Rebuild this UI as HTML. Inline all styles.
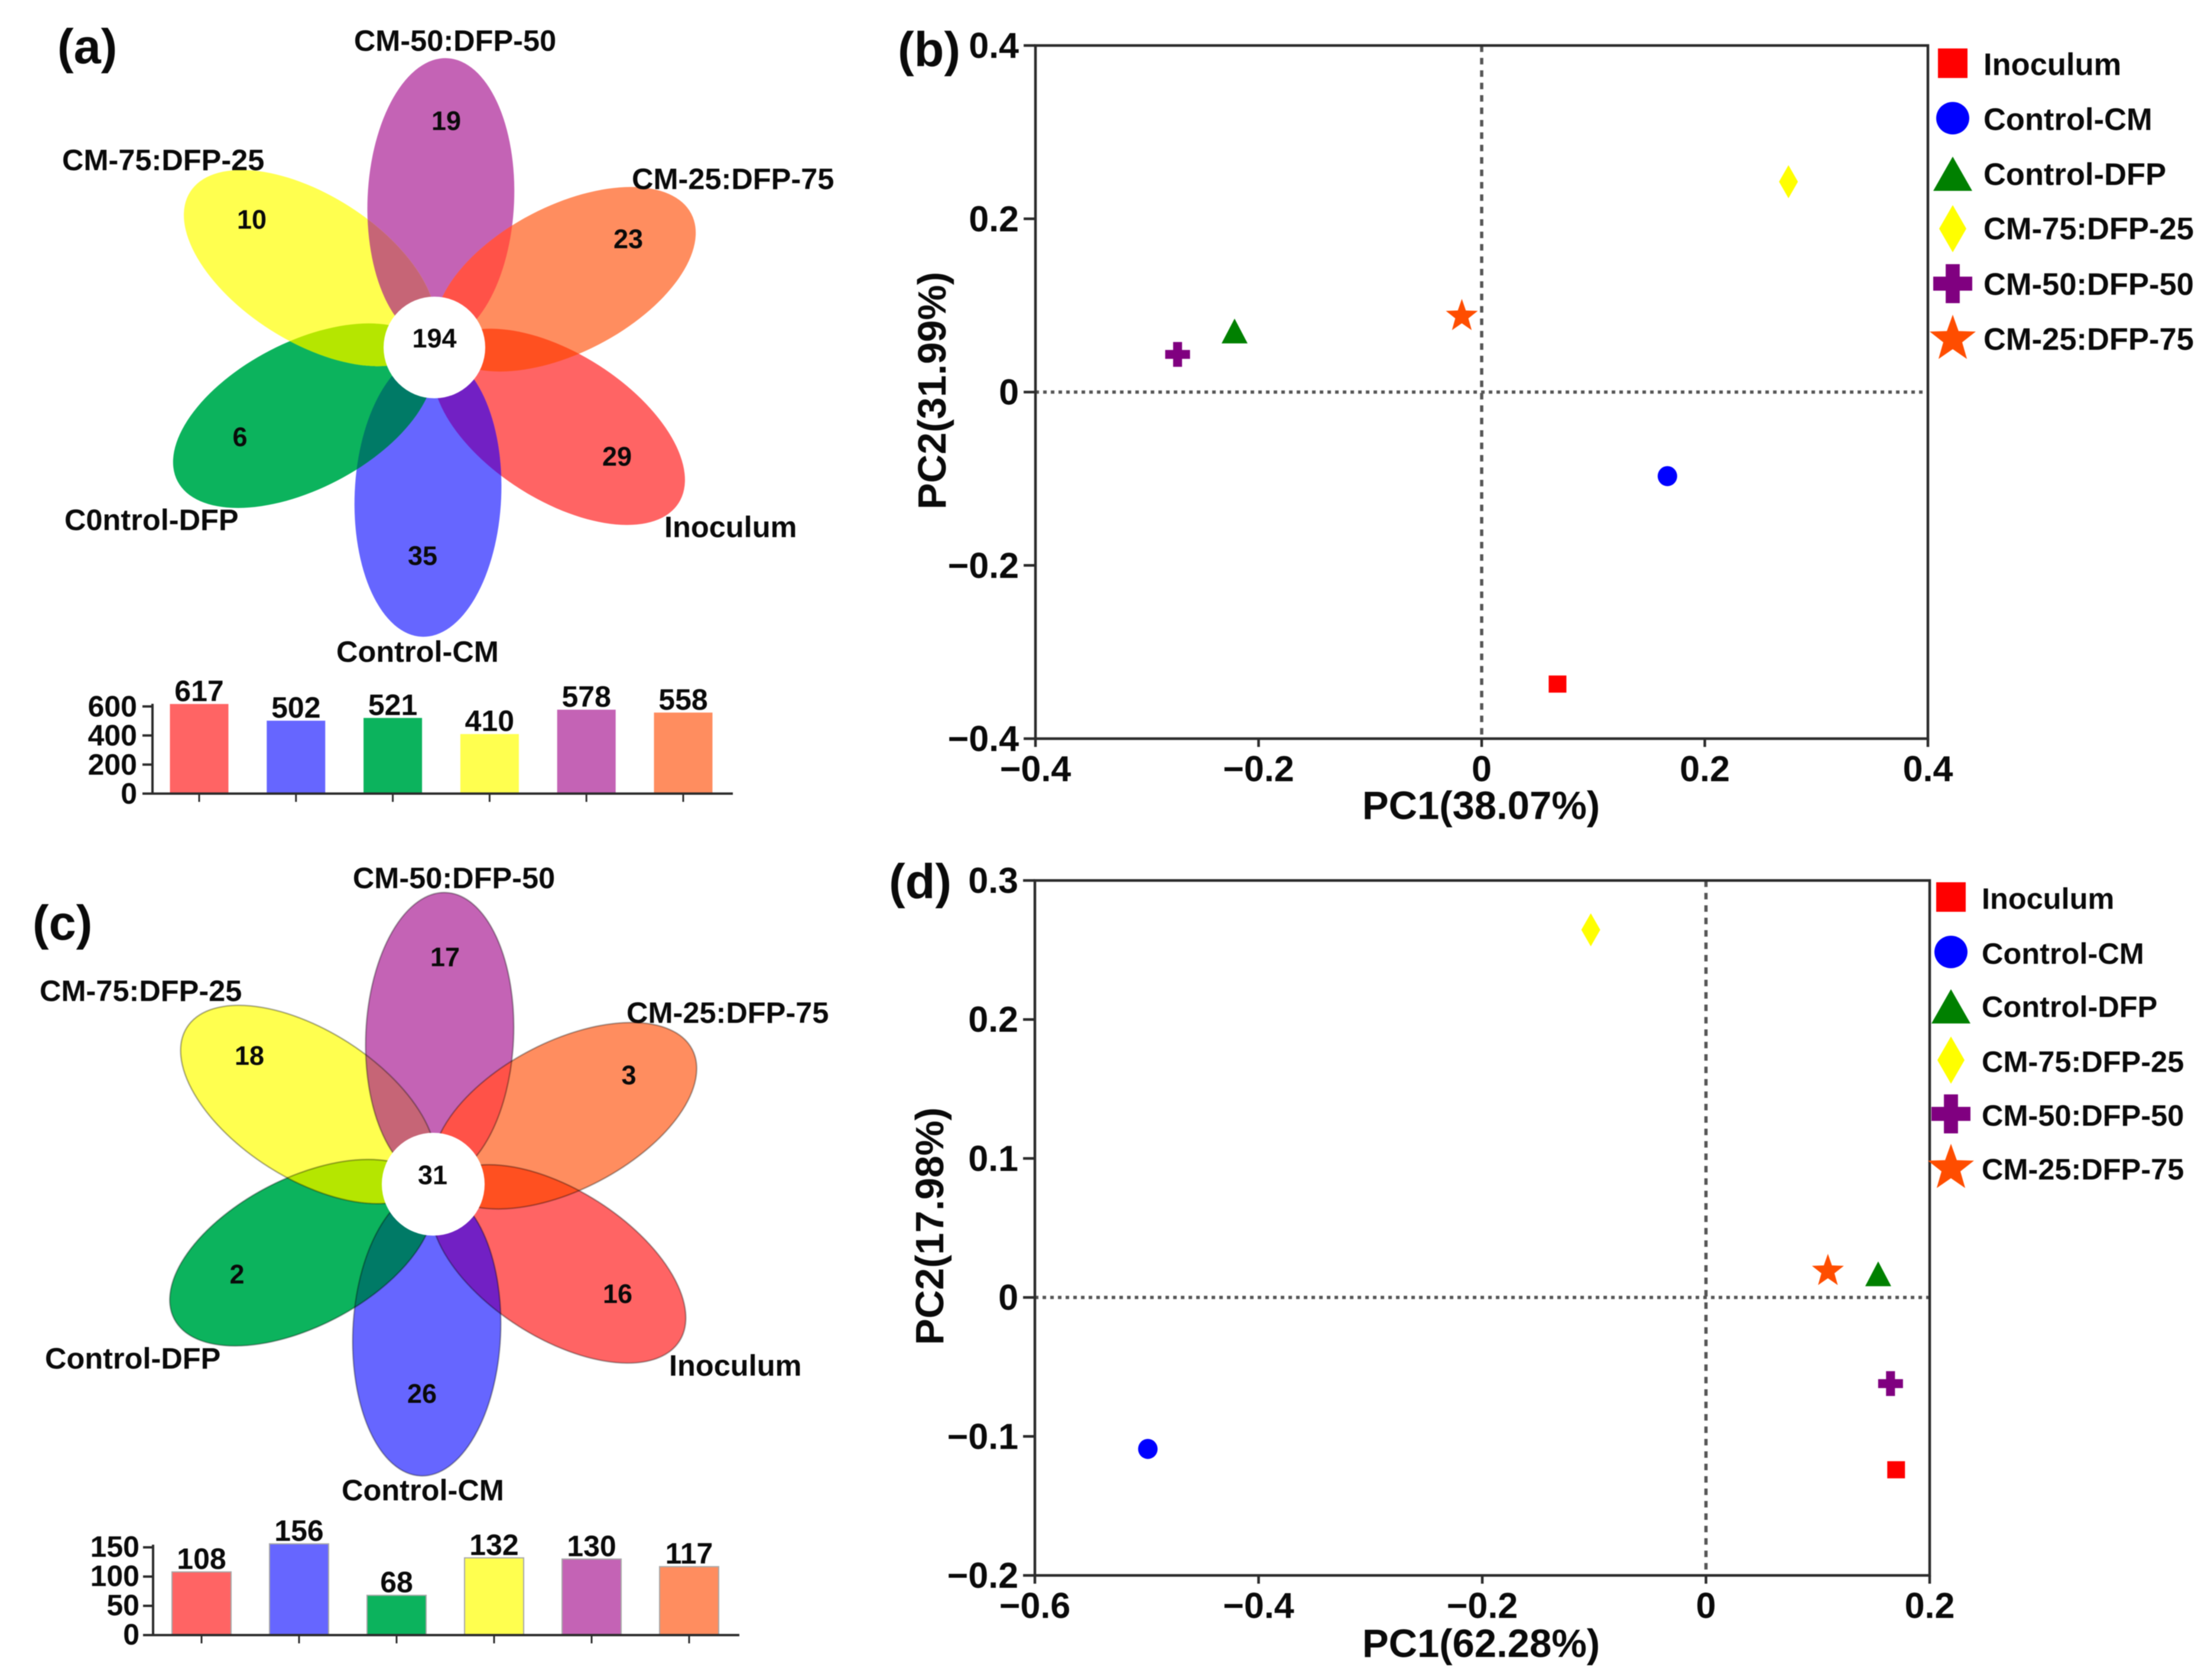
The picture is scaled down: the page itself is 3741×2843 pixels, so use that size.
<!DOCTYPE html>
<html lang="en">
<head>
<meta charset="utf-8">
<title>Venn flowers and PCA plots</title>
<style>
html,body{margin:0;padding:0;background:#fff;}
body{width:3741px;height:2843px;overflow:hidden;}
svg{display:block;filter:blur(0.8px);}
text{font-family:"Liberation Sans",Arial,sans-serif;font-weight:700;fill:#0a0a0a;}
.lab{font-size:50.5px;}
.num{font-size:45px;text-anchor:middle;}
.pan{font-size:83px;}
</style>
</head>
<body>
<svg id="fig" xmlns="http://www.w3.org/2000/svg" width="3741" height="2843" viewBox="0 0 3741 2843">
  <rect width="3741" height="2843" fill="#ffffff"/>

  <g id="venn-a"></g>
  <g>
    <text class="pan" x="97" y="107">(a)</text>
    <text class="lab" x="770" y="86" text-anchor="middle">CM-50:DFP-50</text>
    <text class="lab" x="105" y="288">CM-75:DFP-25</text>
    <text class="lab" x="1069" y="320">CM-25:DFP-75</text>
    <text class="lab" x="109" y="897">C0ntrol-DFP</text>
    <text class="lab" x="1124" y="909">Inoculum</text>
    <text class="lab" x="569" y="1120">Control-CM</text>
    <text class="num" x="755" y="220">19</text>
    <text class="num" x="426" y="387">10</text>
    <text class="num" x="1063" y="420">23</text>
    <text class="num" x="735" y="588">194</text>
    <text class="num" x="406" y="755">6</text>
    <text class="num" x="1044" y="788">29</text>
    <text class="num" x="715" y="956">35</text>
  </g>

  <g id="venn-c"></g>
  <g>
    <text class="pan" x="55" y="1590">(c)</text>
    <text class="lab" x="768" y="1503" text-anchor="middle">CM-50:DFP-50</text>
    <text class="lab" x="67" y="1694">CM-75:DFP-25</text>
    <text class="lab" x="1060" y="1731">CM-25:DFP-75</text>
    <text class="lab" x="76" y="2316">Control-DFP</text>
    <text class="lab" x="1132" y="2328">Inoculum</text>
    <text class="lab" x="578" y="2539">Control-CM</text>
    <text class="num" x="753" y="1635">17</text>
    <text class="num" x="422" y="1802">18</text>
    <text class="num" x="1064" y="1835">3</text>
    <text class="num" x="732" y="2004">31</text>
    <text class="num" x="401" y="2172">2</text>
    <text class="num" x="1045" y="2205">16</text>
    <text class="num" x="714" y="2374">26</text>
  </g>

  <g id="bars-a"></g>
  <g id="bars-c"></g>

  <text class="pan" x="1519" y="112">(b)</text>
  <g id="pca-b"></g>
  <text class="pan" x="1504" y="1520">(d)</text>
  <g id="pca-d"></g>
</svg>

<script>
// ---- data ----
const groupNames = ['Inoculum', 'Control-CM', 'Control-DFP', 'CM-75:DFP-25', 'CM-50:DFP-50', 'CM-25:DFP-75'];
const barValuesA = [617, 502, 521, 410, 578, 558];
const barValuesC = [108, 156, 68, 132, 130, 117];
const barTicksA = [0, 200, 400, 600];
const barTicksC = [0, 50, 100, 150];

const pc1B = [0.068, 0.1665, -0.2215, 0.275, -0.2726, -0.0178];
const pc2B = [-0.337, -0.097, 0.0705, 0.2428, 0.0435, 0.0885];
const pc1D = [0.17, -0.499, 0.154, -0.103, 0.165, 0.109];
const pc2D = [-0.124, -0.109, 0.017, 0.2645, -0.062, 0.0195];

const xTicksB = [-0.4, -0.2, 0, 0.2, 0.4];
const yTicksB = [-0.4, -0.2, 0, 0.2, 0.4];
const xTicksD = [-0.6, -0.4, -0.2, 0, 0.2];
const yTicksD = [-0.2, -0.1, 0, 0.1, 0.2, 0.3];

// ---- styling ----
const NS = 'http://www.w3.org/2000/svg';
const INK = '#2b2b2b';
const barFill = ['#ff6464', '#6666ff', '#0cb35d', '#ffff4f', '#c463b5', '#ff8d5f'];
const markerFill = ['#ff0000', '#0000ff', '#008000', '#ffff00', '#800080', '#ff4d00'];
const markerShape = ['square', 'circle', 'triangle', 'diamond', 'cross', 'star'];
// petals clockwise from the top
const petalOrder = [
  {slug: 'cm50', fill: '#c463b5'},
  {slug: 'cm25', fill: '#ff8d5f'},
  {slug: 'inoculum', fill: '#ff6464'},
  {slug: 'control-cm', fill: '#6666ff'},
  {slug: 'control-dfp', fill: '#0cb35d'},
  {slug: 'cm75', fill: '#ffff4f'}
];
const overlapFill = ['#ff5248', '#ff5020', '#7220c4', '#007a66', '#b5e600', '#c66576'];

function mk(tag, attrs, parent) {
  const el = document.createElementNS(NS, tag);
  for (const k in attrs) el.setAttribute(k, attrs[k]);
  parent.appendChild(el);
  return el;
}
function fmt(v) {
  if (v === 0) return '0';
  const s = Math.abs(v) >= 1 ? String(Math.abs(v)) : Math.abs(v).toFixed(1);
  return (v < 0 ? '\u2212' : '') + s;
}
function slugOf(s) {
  return s.toLowerCase().replace(/[^a-z0-9]+/g, '-');
}

// ---- venn flower ----
function drawVenn(hostId, cx, cy, d, rx, ry, r, stroke) {
  const host = document.getElementById(hostId);
  const defs = mk('defs', {}, host);
  const rot = k => 'rotate(' + (2.5 + 60 * k) + ' ' + cx + ' ' + cy + ')';
  petalOrder.forEach((p, k) => {
    const clip = mk('clipPath', {id: hostId + '-clip-' + k}, defs);
    mk('ellipse', {cx: cx, cy: cy - d, rx: rx, ry: ry, transform: rot(k)}, clip);
  });
  petalOrder.forEach((p, k) => {
    const el = mk('ellipse', {cx: cx, cy: cy - d, rx: rx, ry: ry, transform: rot(k), fill: p.fill}, host);
    
    
  });
  petalOrder.forEach((p, k) => {
    const g = mk('g', {'clip-path': 'url(#' + hostId + '-clip-' + k + ')'}, host);
    const el = mk('ellipse', {cx: cx, cy: cy - d, rx: rx, ry: ry, transform: rot(k + 1), fill: overlapFill[k]}, g);
    
    
  });
  if (stroke) {
    petalOrder.forEach((p, k) => {
      const el = mk('ellipse', {cx: cx, cy: cy - d, rx: rx, ry: ry, transform: rot(k), fill: 'none', stroke: '#000', 'stroke-opacity': 0.33, 'stroke-width': 2.5}, host);
      
      
    });
  }
  const c = mk('circle', {cx: cx, cy: cy, r: r, fill: '#fff'}, host);
  
  
}

// ---- bar charts ----
function drawBars(hostId, values, ticks, o) {
  const host = document.getElementById(hostId);
  const yOf = v => o.base - v * o.scale;
  const xOf = i => o.x0 + i * o.step;
  values.forEach((v, i) => {
    const bar = mk('rect', {x: xOf(i) - o.w / 2, y: yOf(v), width: o.w, height: o.base - yOf(v), fill: barFill[i]}, host);
    if (o.outline) { bar.setAttribute('stroke', '#a8a8a8'); bar.setAttribute('stroke-width', 2); }
    
    
    const t = mk('text', {x: xOf(i), y: yOf(v) - 5, 'text-anchor': 'middle', 'font-size': 50}, host);
    t.textContent = v;
    
    
    const tk = mk('line', {x1: xOf(i), x2: xOf(i), y1: o.base, y2: o.base + 14, stroke: INK, 'stroke-width': 3}, host);
    
    
  });
  const ya = mk('line', {x1: o.axisX, x2: o.axisX, y1: o.axisTop, y2: o.base, stroke: INK, 'stroke-width': 4}, host);
  
  
  const xa = mk('line', {x1: o.axisX - 17, x2: o.axisEnd, y1: o.base, y2: o.base, stroke: INK, 'stroke-width': 4}, host);
  
  
  ticks.forEach(v => {
    const tk = mk('line', {x1: o.axisX - 17, x2: o.axisX, y1: yOf(v), y2: yOf(v), stroke: INK, 'stroke-width': 4}, host);
    
    
    const t = mk('text', {x: o.labelX, y: yOf(v) + o.labelDy, 'text-anchor': 'end', 'font-size': 50}, host);
    t.textContent = v;
    
    
  });
}

// ---- markers ----
function drawMarker(parent, shape, x, y, w, h, fill) {
  let el;
  if (shape === 'square') {
    el = mk('rect', {x: x - w / 2, y: y - h / 2, width: w, height: h, fill: fill}, parent);
  } else if (shape === 'circle') {
    el = mk('ellipse', {cx: x, cy: y, rx: w / 2, ry: h / 2, fill: fill}, parent);
  } else {
    let pts = [];
    if (shape === 'triangle') {
      pts = [[0, -h / 2], [w / 2, h / 2], [-w / 2, h / 2]];
    } else if (shape === 'diamond') {
      pts = [[0, -h / 2], [w / 2, 0], [0, h / 2], [-w / 2, 0]];
    } else if (shape === 'cross') {
      const a = w * 0.18, b = h * 0.18, W = w / 2, H = h / 2;
      pts = [[-a, -H], [a, -H], [a, -b], [W, -b], [W, b], [a, b], [a, H], [-a, H], [-a, b], [-W, b], [-W, -b], [-a, -b]];
    } else {
      for (let i = 0; i < 10; i++) {
        const rad = i % 2 ? 0.41 : 1;
        const an = -Math.PI / 2 + i * Math.PI / 5;
        pts.push([Math.cos(an) * rad * w / 2 / 0.951, Math.sin(an) * rad * h / 2 / 0.905 + h * 0.026]);
      }
    }
    el = mk('polygon', {points: pts.map(p => (x + p[0]).toFixed(1) + ',' + (y + p[1]).toFixed(1)).join(' '), fill: fill}, parent);
  }
  return el;
}
const pointSize = {square: [30, 29], circle: [33, 34], triangle: [44, 42], diamond: [32, 56], cross: [42, 42], star: [54, 53]};
const legendSize = {square: [50, 50], circle: [56, 55], triangle: [66, 58], diamond: [46, 80], cross: [66, 66], star: [78, 75]};

// ---- PCA plots ----
function drawPca(hostId, px, py, xTicks, yTicks, o) {
  const host = document.getElementById(hostId);
  const xMin = xTicks[0], xMax = xTicks[xTicks.length - 1];
  const yMin = yTicks[0], yMax = yTicks[yTicks.length - 1];
  const X = v => o.left + (v - xMin) / (xMax - xMin) * (o.right - o.left);
  const Y = v => o.bottom - (v - yMin) / (yMax - yMin) * (o.bottom - o.top);

  const zv = mk('line', {x1: X(0), x2: X(0), y1: o.top, y2: o.bottom, stroke: '#555', 'stroke-width': 5.5, 'stroke-dasharray': '11 10'}, host);
  
  
  const zh = mk('line', {x1: o.left, x2: o.right, y1: Y(0), y2: Y(0), stroke: '#555', 'stroke-width': 5.5, 'stroke-dasharray': '6 7'}, host);
  
  
  const fr = mk('rect', {x: o.left, y: o.top, width: o.right - o.left, height: o.bottom - o.top, fill: 'none', stroke: INK, 'stroke-width': 4.5}, host);
  
  

  xTicks.forEach(v => {
    const tk = mk('line', {x1: X(v), x2: X(v), y1: o.bottom, y2: o.bottom + 14, stroke: INK, 'stroke-width': 4.5}, host);
    
    
    const t = mk('text', {x: X(v), y: o.bottom + 72, 'text-anchor': 'middle', 'font-size': 61}, host);
    t.textContent = fmt(v);
    
    
  });
  yTicks.forEach(v => {
    const tk = mk('line', {x1: o.left - 20, x2: o.left, y1: Y(v), y2: Y(v), stroke: INK, 'stroke-width': 4.5}, host);
    
    
    const t = mk('text', {x: o.left - 28, y: Y(v) + 21, 'text-anchor': 'end', 'font-size': 61}, host);
    t.textContent = fmt(v);
    
    
  });

  const xt = mk('text', {x: o.xTitleX, y: o.xTitleY, 'text-anchor': 'middle', 'font-size': 67}, host);
  xt.textContent = o.xTitle;
  
  
  const yt = mk('text', {x: 0, y: 0, 'text-anchor': 'middle', 'font-size': 67, transform: 'translate(' + o.yTitleX + ' ' + o.yTitleY + ') rotate(-90)'}, host);
  yt.textContent = o.yTitle;
  
  

  groupNames.forEach((name, i) => {
    const s = markerShape[i];
    const m = drawMarker(host, s, X(px[i]), Y(py[i]), pointSize[s][0], pointSize[s][1], markerFill[i]);
    
    
    const lm = drawMarker(host, s, o.legendX, o.legendRows[i], legendSize[s][0], legendSize[s][1], markerFill[i]);
    
    
    const lt = mk('text', {x: o.legendTextX, y: o.legendBase[i], 'font-size': o.legendFont}, host);
    lt.textContent = name;
    
    
  });
}

drawVenn('venn-a', 735, 588, 250, 124, 240, 86, false);
drawVenn('venn-c', 733, 2004, 251, 125, 243, 87, true);

drawBars('bars-a', barValuesA, barTicksA, {base: 1343, scale: 0.2458, x0: 337, step: 163.8, w: 99, axisX: 258, axisTop: 1191, axisEnd: 1240, labelX: 232, labelDy: 17, outline: false});
drawBars('bars-c', barValuesC, barTicksC, {base: 2767, scale: 0.99, x0: 341, step: 165, w: 100, axisX: 259, axisTop: 2614, axisEnd: 1251, labelX: 236, labelDy: 16, outline: true});

drawPca('pca-b', pc1B, pc2B, xTicksB, yTicksB, {
  left: 1752, right: 3262, top: 77, bottom: 1250,
  xTitle: 'PC1(38.07%)', xTitleX: 2506, xTitleY: 1386,
  yTitle: 'PC2(31.99%)', yTitleX: 1600, yTitleY: 661,
  legendX: 3304, legendTextX: 3356, legendFont: 52.5,
  legendRows: [107, 200, 294, 387, 480, 572],
  legendBase: [127, 220, 313, 405, 499, 592]
});
drawPca('pca-d', pc1D, pc2D, xTicksD, yTicksD, {
  left: 1751, right: 3265, top: 1490, bottom: 2666,
  xTitle: 'PC1(62.28%)', xTitleX: 2506, xTitleY: 2804,
  yTitle: 'PC2(17.98%)', yTitleX: 1596, yTitleY: 2075,
  legendX: 3301, legendTextX: 3353, legendFont: 50.5,
  legendRows: [1518, 1611, 1703, 1794, 1885, 1975],
  legendBase: [1538, 1631, 1721, 1814, 1905, 1996]
});
</script>
</body>
</html>
